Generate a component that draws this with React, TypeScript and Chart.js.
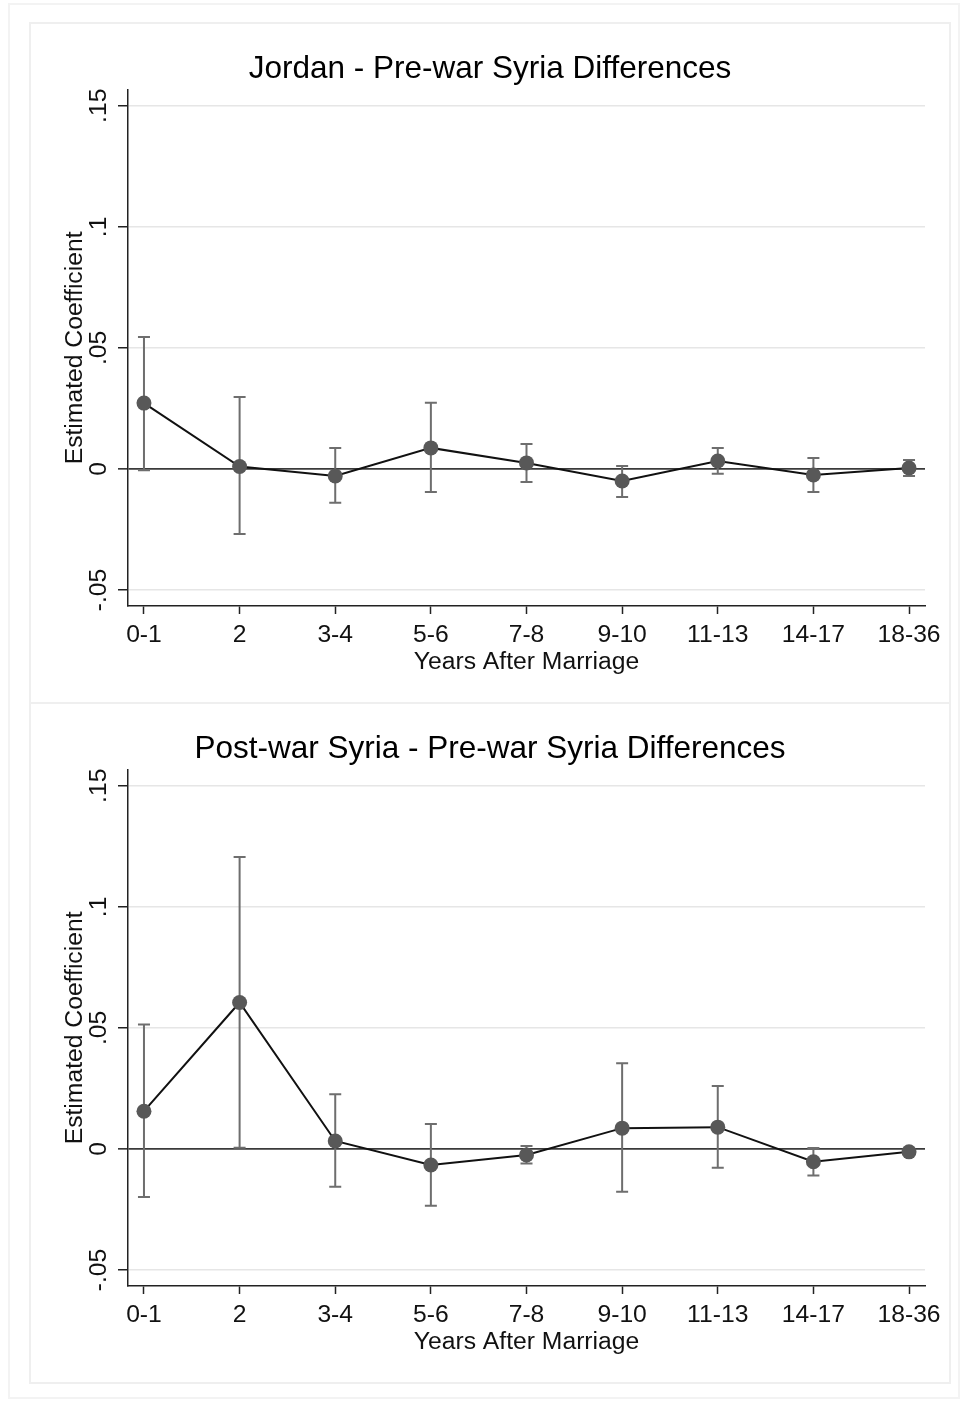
import React, { useEffect, useRef } from "react";
import { Chart, registerables } from "chart.js";

Chart.register(...registerables);

// ---------- data ----------
const categories = ["0-1", "2", "3-4", "5-6", "7-8", "9-10", "11-13", "14-17", "18-36"];
const yTickValues = [-0.05, 0, 0.05, 0.1, 0.15];
const yTickLabels = ["-.05", "0", ".05", ".1", ".15"];
const xAxisTitle = "Years After Marriage";
const yAxisTitle = "Estimated Coefficient";

const jordanTitle = "Jordan - Pre-war Syria Differences";
const jordanCoef = [0.0272, 0.001, -0.0029, 0.0087, 0.0025, -0.005, 0.0033, -0.0025, 0.0004];
const jordanLower = [-0.0005, -0.0269, -0.014, -0.0095, -0.0054, -0.0116, -0.002, -0.0095, -0.0029];
const jordanUpper = [0.0545, 0.0297, 0.0087, 0.0273, 0.0103, 0.0012, 0.0087, 0.0045, 0.0037];

const postwarTitle = "Post-war Syria - Pre-war Syria Differences";
const postwarCoef = [0.0156, 0.0605, 0.0033, -0.0066, -0.0025, 0.0086, 0.009, -0.0053, -0.0012];
const postwarLower = [-0.0198, 0.0005, -0.0156, -0.0235, -0.006, -0.0177, -0.0078, -0.011, -0.002];
const postwarUpper = [0.0514, 0.1206, 0.0226, 0.0103, 0.0012, 0.0354, 0.026, 0.0004, -0.0004];

// ---------- styling ----------
const FONT = "'Liberation Sans', Arial, Helvetica, sans-serif";
const CANVAS_W = 920;
const CANVAS_H = 680;

const errorBarPlugin = {
  id: "errorBars",
  beforeDatasetsDraw(chart: any, _args: any, opts: any) {
    const { ctx, scales } = chart;
    const x = scales.x;
    const y = scales.y;
    const lower: number[] = opts.lower || [];
    const upper: number[] = opts.upper || [];
    ctx.save();
    ctx.strokeStyle = opts.color;
    ctx.lineWidth = opts.width;
    const cap = opts.cap;
    lower.forEach((lo, i) => {
      const px = x.getPixelForValue(i);
      const p1 = y.getPixelForValue(lo);
      const p2 = y.getPixelForValue(upper[i]);
      ctx.beginPath();
      ctx.moveTo(px, p1);
      ctx.lineTo(px, p2);
      ctx.moveTo(px - cap, p1);
      ctx.lineTo(px + cap, p1);
      ctx.moveTo(px - cap, p2);
      ctx.lineTo(px + cap, p2);
      ctx.stroke();
    });
    ctx.restore();
  },
};

function Panel({
  title,
  coef,
  lower,
  upper,
  top,
}: {
  title: string;
  coef: number[];
  lower: number[];
  upper: number[];
  top: number;
}) {
  const ref = useRef<HTMLCanvasElement>(null);
  useEffect(() => {
    if (!ref.current) return;
    const axisFont = { family: FONT, size: 24.7, weight: "normal" as const, lineHeight: 1.2 };
    const chart = new Chart(ref.current, {
      type: "line",
      data: {
        datasets: [
          {
            data: coef.map((v, i) => ({ x: i, y: v })),
            borderColor: "#111111",
            borderWidth: 2,
            pointRadius: 7.5,
            pointHoverRadius: 7.5,
            pointBackgroundColor: "#585858",
            pointBorderWidth: 0,
            fill: false,
            tension: 0,
            clip: false as any,
          },
        ],
      },
      plugins: [errorBarPlugin as any],
      options: {
        responsive: false,
        animation: false,
        events: [],
        layout: { padding: { left: 25, right: 25, top: 0, bottom: 0 } },
        plugins: {
          legend: { display: false },
          tooltip: { enabled: false },
          title: {
            display: true,
            text: title,
            color: "#000000",
            font: { family: FONT, size: 31.5, weight: "normal", lineHeight: 1.2 },
            padding: { top: 27, bottom: 2 },
          },
          errorBars: { lower, upper, color: "#6e6e6e", width: 2, cap: 6 },
        } as any,
        scales: {
          x: {
            type: "linear",
            min: -0.167,
            max: 8.167,
            afterBuildTicks: (s: any) => {
              s.ticks = categories.map((_, i) => ({ value: i }));
            },
            afterFit: (s: any) => {
              s.height = 97;
              s.paddingLeft = 0;
              s.paddingRight = 0;
            },
            ticks: {
              autoSkip: false,
              minRotation: 0,
              maxRotation: 0,
              padding: 6,
              color: "#111111",
              font: axisFont,
              callback: (_v: any, i: number) => categories[i],
            },
            grid: {
              drawOnChartArea: false,
              drawTicks: true,
              tickLength: 8,
              tickColor: "#222222",
              tickWidth: 1.5,
            },
            border: { display: true, color: "#222222", width: 1.5 },
            title: {
              display: true,
              text: xAxisTitle,
              color: "#111111",
              font: axisFont,
              padding: { top: 0, bottom: 26 },
            },
          },
          y: {
            type: "linear",
            min: -0.0566,
            max: 0.1566,
            afterBuildTicks: (s: any) => {
              s.ticks = yTickValues.map((v) => ({ value: v }));
            },
            afterFit: (s: any) => {
              s.width = 73;
              s.paddingTop = 0;
              s.paddingBottom = 0;
            },
            ticks: {
              minRotation: 90,
              maxRotation: 90,
              crossAlign: "center",
              padding: -2,
              color: "#111111",
              font: axisFont,
              callback: (_v: any, i: number) => yTickLabels[i],
            },
            grid: {
              drawOnChartArea: true,
              drawTicks: true,
              tickLength: 10,
              tickWidth: 1.5,
              tickColor: "#222222",
              color: (c: any) => (c.tick && c.tick.value === 0 ? "#3a3a3a" : "#e6e6e6"),
              lineWidth: (c: any) => (c.tick && c.tick.value === 0 ? 1.7 : 1.5),
            },
            border: { display: true, color: "#222222", width: 1.5 },
            title: {
              display: true,
              text: yAxisTitle,
              color: "#111111",
              font: axisFont,
              padding: { top: 5, bottom: 0 },
            },
          },
        } as any,
      },
    });
    return () => chart.destroy();
  }, [title, coef, lower, upper]);

  return (
    <>
      <div
        style={{
          position: "absolute",
          left: 29,
          top: top - 1,
          width: CANVAS_W + 2,
          height: CANVAS_H + 2,
          border: "2px solid #efefef",
          boxSizing: "border-box",
        }}
      />
      <div style={{ position: "absolute", left: 30, top, width: CANVAS_W, height: CANVAS_H }}>
        <canvas ref={ref} width={CANVAS_W} height={CANVAS_H} style={{ display: "block" }} />
      </div>
    </>
  );
}

export default function App() {
  return (
    <div
      style={{
        position: "absolute",
        left: 0,
        top: 0,
        width: 963,
        height: 1403,
        overflow: "hidden",
        background: "#ffffff",
      }}
    >
      <div
        style={{
          position: "absolute",
          left: 8,
          top: 3,
          width: 952,
          height: 1396,
          border: "2px solid #f3f3f3",
          boxSizing: "border-box",
        }}
      />
      <Panel title={jordanTitle} coef={jordanCoef} lower={jordanLower} upper={jordanUpper} top={23} />
      <Panel title={postwarTitle} coef={postwarCoef} lower={postwarLower} upper={postwarUpper} top={703} />
    </div>
  );
}
